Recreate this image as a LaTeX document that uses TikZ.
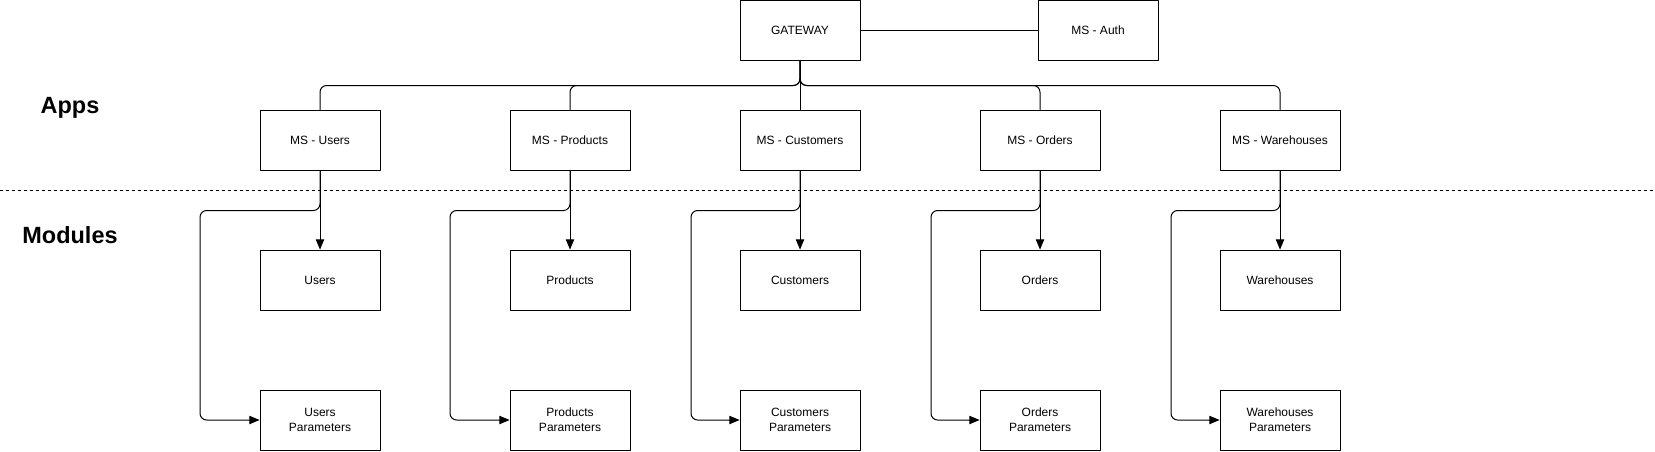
\documentclass[tikz,border=0pt]{standalone}
\usepackage{fontspec}
\setmainfont{Liberation Sans}
\usepackage{tikz}
\usetikzlibrary{arrows}

\begin{document}
\begin{tikzpicture}[line cap=round,line join=round,>=triangle 45,x=0.75pt,y=-0.75pt,
box/.style={draw,line width=0.75pt,minimum width=90pt,minimum height=45pt,inner sep=0pt,align=center,font=\fontsize{9}{11}\selectfont},
link/.style={line width=0.75pt,rounded corners=5pt},
layer/.style={font=\bfseries\fontsize{17.6}{20}\selectfont,anchor=base}]
\useasboundingbox (0,0) rectangle (1655,451);
\draw [line width=0.75pt,line cap=butt,dash pattern=on 2.25pt off 2.25pt] (0,190) -- (1655,190);
\node [layer] (apps) at (70,113) {Apps};
\node [layer] (modules) at (70,243) {Modules};
\node [box] (gateway) at (800,30) {GATEWAY};
\node [box] (auth) at (1098,30) {MS - Auth};
\node [box] (msusers) at (320,140) {MS - Users};
\node [box] (msproducts) at (570,140) {MS - Products};
\node [box] (mscustomers) at (800,140) {MS - Customers};
\node [box] (msorders) at (1040,140) {MS - Orders};
\node [box] (mswarehouses) at (1280,140) {MS - Warehouses};
\node [box] (users) at (320,280) {Users};
\node [box] (products) at (570,280) {Products};
\node [box] (customers) at (800,280) {Customers};
\node [box] (orders) at (1040,280) {Orders};
\node [box] (warehouses) at (1280,280) {Warehouses};
\node [box] (usersparams) at (320,420) {Users\\Parameters};
\node [box] (productsparams) at (570,420) {Products\\Parameters};
\node [box] (customersparams) at (800,420) {Customers\\Parameters};
\node [box] (ordersparams) at (1040,420) {Orders\\Parameters};
\node [box] (warehousesparams) at (1280,420) {Warehouses\\Parameters};
\draw [link] (gateway) -- (auth);
\draw [link] (gateway.south) -- ++(0,25) -| (msusers.north);
\draw [link] (gateway.south) -- ++(0,25) -| (msproducts.north);
\draw [link] (gateway) -- (mscustomers);
\draw [link] (gateway.south) -- ++(0,25) -| (msorders.north);
\draw [link] (gateway.south) -- ++(0,25) -| (mswarehouses.north);
\draw [link,->] (msusers) -- (users);
\draw [link,->] (msproducts) -- (products);
\draw [link,->] (mscustomers) -- (customers);
\draw [link,->] (msorders) -- (orders);
\draw [link,->] (mswarehouses) -- (warehouses);
\draw [link,->] (msusers.south) -- ++(0,40) -- ++(-120,0) |- (usersparams.west);
\draw [link,->] (msproducts.south) -- ++(0,40) -- ++(-120,0) |- (productsparams.west);
\draw [link,->] (mscustomers.south) -- ++(0,40) -- ++(-109,0) |- (customersparams.west);
\draw [link,->] (msorders.south) -- ++(0,40) -- ++(-109,0) |- (ordersparams.west);
\draw [link,->] (mswarehouses.south) -- ++(0,40) -- ++(-109,0) |- (warehousesparams.west);
\end{tikzpicture}
\end{document}
